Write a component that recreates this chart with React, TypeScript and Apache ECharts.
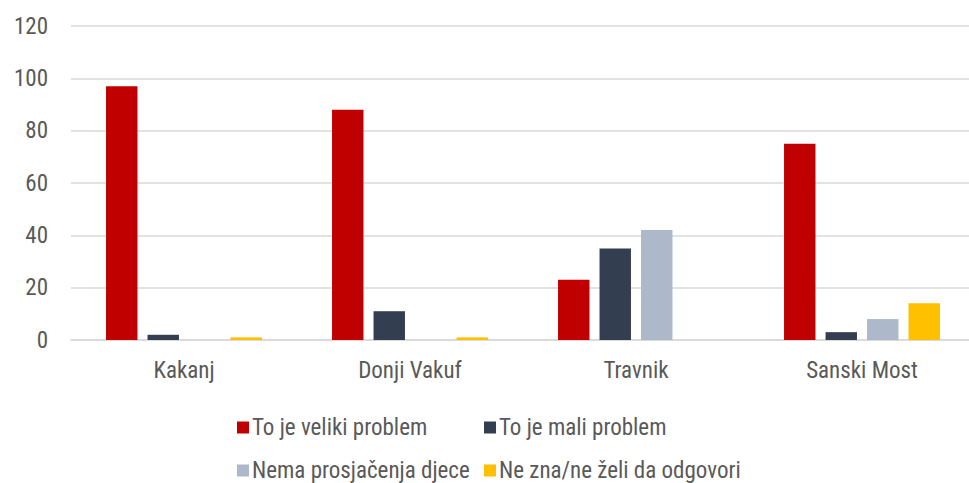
import React, { useEffect, useRef } from "react";
import * as echarts from "echarts";

const categories = ["Kakanj", "Donji Vakuf", "Travnik", "Sanski Most"];
const seriesNames = [
  "To je veliki problem",
  "To je mali problem",
  "Nema prosjačenja djece",
  "Ne zna/ne želi da odgovori",
];
const veliki = [97, 88, 23, 75];
const mali = [2, 11, 35, 3];
const nema = [0, 0, 42, 8];
const neZna = [1, 1, 0, 14];
const colors = ["#C00000", "#333F50", "#ADB9CA", "#FFC000"];
const yTicks = { min: 0, max: 120, interval: 20 };

const FONT = "'Liberation Sans Narrow', 'Roboto Condensed', Roboto, sans-serif";
const TEXT = "#595959";
const FS = 23;

export default function App() {
  const ref = useRef<HTMLDivElement>(null);
  useEffect(() => {
    if (!ref.current) return;
    const chart = echarts.init(ref.current, undefined, { renderer: "svg" });
    const values = [veliki, mali, nema, neZna];
    const legendPos = [
      { left: 232, top: 411 },
      { left: 479, top: 411 },
      { left: 232, top: 454 },
      { left: 479, top: 454 },
    ];
    chart.setOption({
      animation: false,
      textStyle: { fontFamily: FONT },
      grid: { left: 71, width: 904, top: 26, bottom: 143, outerBoundsMode: "none", containLabel: false },
      legend: seriesNames.map((n, i) => ({
        data: [n],
        left: legendPos[i].left,
        top: legendPos[i].top,
        itemWidth: 12,
        itemHeight: 12,
        itemGap: 4,
        icon: "rect",
        textStyle: { fontFamily: FONT, fontSize: FS, color: TEXT, padding: [0, 0, 0, -2] },
      })),
      xAxis: {
        type: "category",
        data: categories,
        axisLine: { lineStyle: { color: "#D9D9D9", width: 1.5 } },
        axisTick: { show: false },
        axisLabel: { fontFamily: FONT, fontSize: FS, color: TEXT, margin: 19 },
      },
      yAxis: {
        type: "value",
        min: yTicks.min,
        max: yTicks.max,
        interval: yTicks.interval,
        axisLabel: { fontFamily: FONT, fontSize: FS, color: TEXT, margin: 23 },
        splitLine: { lineStyle: { color: "#D9D9D9", width: 1.5 } },
        axisLine: { show: false },
        axisTick: { show: false },
      },
      series: seriesNames.map((n, i) => ({
        name: n,
        type: "bar",
        data: values[i],
        itemStyle: { color: colors[i] },
        barGap: "32%",
        barCategoryGap: "31%",
      })),
    });
    return () => chart.dispose();
  }, []);
  return <div ref={ref} style={{ width: 969, height: 483, position: "absolute", left: 0, top: 0 }} />;
}
